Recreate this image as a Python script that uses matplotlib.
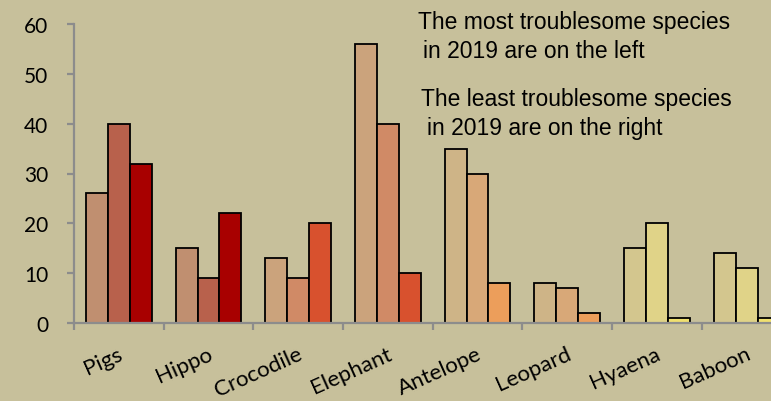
import numpy as np
import matplotlib.pyplot as plt

plt.rcParams['font.family'] = ['Lato', 'DejaVu Sans']

# data
species = ['Pigs', 'Hippo', 'Crocodile', 'Elephant', 'Antelope', 'Leopard', 'Hyaena', 'Baboon']
bar1 = [26, 15, 13, 56, 35, 8, 15, 14]
bar2 = [40, 9, 9, 40, 30, 7, 20, 11]
bar3 = [32, 22, 20, 10, 8, 2, 1, 1]

# one colour triple per species
colors = [
    ['#C08F70', '#B8614C', '#A80000'],
    ['#C08F70', '#B8614C', '#A80000'],
    ['#CBA37C', '#D08A66', '#D8512E'],
    ['#CBA37C', '#D08A66', '#D8512E'],
    ['#CEB487', '#D8A878', '#EC9E5B'],
    ['#CEB487', '#D8A878', '#EC9E5B'],
    ['#D3C68E', '#E0D388', '#F0E070'],
    ['#D3C68E', '#E0D388', '#F0E070'],
]

bg = '#C7C09B'
W, H = 771, 402

fig = plt.figure(figsize=(W / 100, H / 100), dpi=100, facecolor=bg)
ax = fig.add_axes([74 / W, (H - 324) / H, 8 * 89.67 / W, 299 / H])
ax.set_facecolor(bg)

x = np.arange(len(species)) + 0.5
w = 0.245
for j, vals in enumerate([bar1, bar2, bar3]):
    ax.bar(x + (j - 1) * w, vals, w,
           color=[c[j] for c in colors], edgecolor='black', linewidth=1.3,
           zorder=3, clip_on=False)

ax.set_xlim(0, len(species))
ax.set_ylim(0, 60)
ax.set_yticks(range(0, 61, 10))
ax.set_xticks(range(0, len(species) + 1))
ax.set_xticklabels([])

for s in ['top', 'right']:
    ax.spines[s].set_visible(False)
for s in ['left', 'bottom']:
    ax.spines[s].set_color('#8C8C8C')
    ax.spines[s].set_linewidth(1.6)
ax.spines['bottom'].set_zorder(4)
ax.tick_params(axis='both', color='#8C8C8C', width=1.6, length=5, direction='out')
ax.tick_params(axis='y', pad=13.5, labelsize=15)

# category labels, rotated, right end under each group centre
for xi, name in zip(x, species):
    ax.annotate(name, xy=(xi, 0), xycoords=('data', 'axes fraction'),
                xytext=(-1, -14.5), textcoords='offset points',
                rotation=24, rotation_mode='anchor', ha='right', va='top',
                fontsize=16, annotation_clip=False)

notes = [
    (418, 29, 'The most troublesome species'),
    (423, 58, 'in 2019 are on the left'),
    (421, 106, 'The least troublesome species'),
    (427, 135, 'in 2019 are on the right'),
]
for nx, ny, t in notes:
    fig.text(nx / W, 1 - ny / H, t, fontsize=16.5,
             fontfamily='Liberation Sans', va='baseline', ha='left')

fig.savefig('out.png', dpi=100, facecolor=bg)
